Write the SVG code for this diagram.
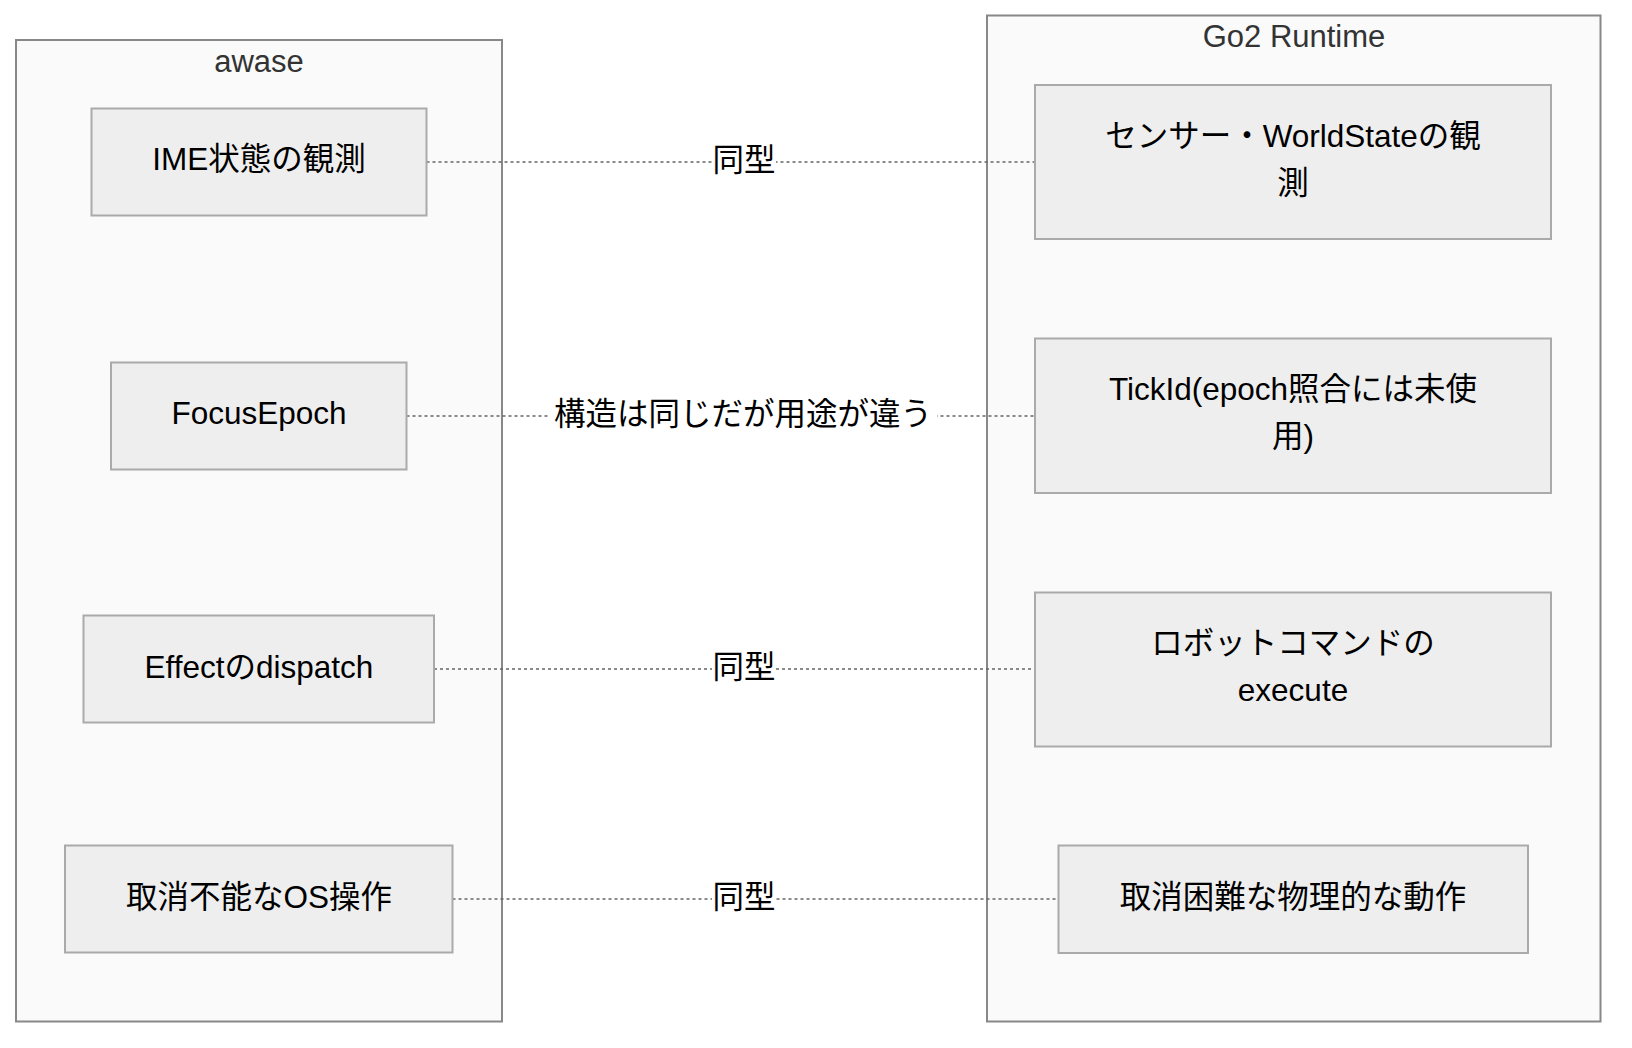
<svg xmlns="http://www.w3.org/2000/svg" width="1632" height="1048" viewBox="0 0 1632 1048">
<style>
.cont{fill:#fafafa;stroke:#888;stroke-width:2}
.node{fill:#eeeeee;stroke:#aaaaaa;stroke-width:2}
.t{font-family:"Liberation Sans","Noto Sans CJK JP",sans-serif;font-size:31.5px;fill:#000;text-anchor:middle}
.ct{font-family:"Liberation Sans","Noto Sans CJK JP",sans-serif;font-size:31px;fill:#333;text-anchor:middle}
.edge{fill:none;stroke:#666;stroke-width:1.5;stroke-dasharray:3 3}
.lbg{fill:#ffffff}
</style>
<rect width="1632" height="1048" fill="#ffffff"/>
<g id="awase">
<rect class="cont" x="16" y="40" width="486" height="981.5"/>
<text class="ct" x="259" y="71.5">awase</text>
</g>
<g id="go2runtime">
<rect class="cont" x="987" y="15.5" width="613.5" height="1006"/>
<text class="ct" x="1294" y="46.5">Go2 Runtime</text>
</g>
<g id="edges">
<line class="edge" x1="426.5" y1="162" x2="1035" y2="162"/>
<line class="edge" x1="406.5" y1="416" x2="1035" y2="416"/>
<line class="edge" x1="434" y1="669" x2="1035" y2="669"/>
<line class="edge" x1="452.5" y1="899" x2="1058.5" y2="899"/>
<rect class="lbg" x="712" y="146" width="64" height="32"/>
<text class="t" x="744" y="171">同型</text>
<rect class="lbg" x="549" y="400" width="388" height="32"/>
<text class="t" x="743" y="425">構造は同じだが用途が違う</text>
<rect class="lbg" x="712" y="653" width="64" height="32"/>
<text class="t" x="744" y="678">同型</text>
<rect class="lbg" x="712" y="883" width="64" height="32"/>
<text class="t" x="744" y="908">同型</text>
</g>
<g id="ime">
<rect class="node" x="91.5" y="108.5" width="335" height="107"/>
<text class="t" x="259" y="170">IME状態の観測</text>
</g>
<g id="focusepoch">
<rect class="node" x="111" y="362.5" width="295.5" height="107"/>
<text class="t" x="259" y="423.5">FocusEpoch</text>
</g>
<g id="effect">
<rect class="node" x="83.5" y="615.5" width="350.5" height="107"/>
<text class="t" x="259" y="677.5">Effectのdispatch</text>
</g>
<g id="oscmd">
<rect class="node" x="65" y="845.5" width="387.5" height="107"/>
<text class="t" x="259" y="907.5">取消不能なOS操作</text>
</g>
<g id="sensor">
<rect class="node" x="1035" y="85" width="516" height="154"/>
<text class="t" x="1293" y="146.5">センサー・WorldStateの観</text>
<text class="t" x="1293" y="193.5">測</text>
</g>
<g id="tickid">
<rect class="node" x="1035" y="338.5" width="516" height="154.5"/>
<text class="t" x="1293" y="400">TickId(epoch照合には未使</text>
<text class="t" x="1293" y="447">用)</text>
</g>
<g id="robot">
<rect class="node" x="1035" y="592.5" width="516" height="154"/>
<text class="t" x="1293" y="654">ロボットコマンドの</text>
<text class="t" x="1293" y="701">execute</text>
</g>
<g id="physical">
<rect class="node" x="1058.5" y="845.5" width="469.5" height="107.5"/>
<text class="t" x="1293" y="907.5">取消困難な物理的な動作</text>
</g>
</svg>
